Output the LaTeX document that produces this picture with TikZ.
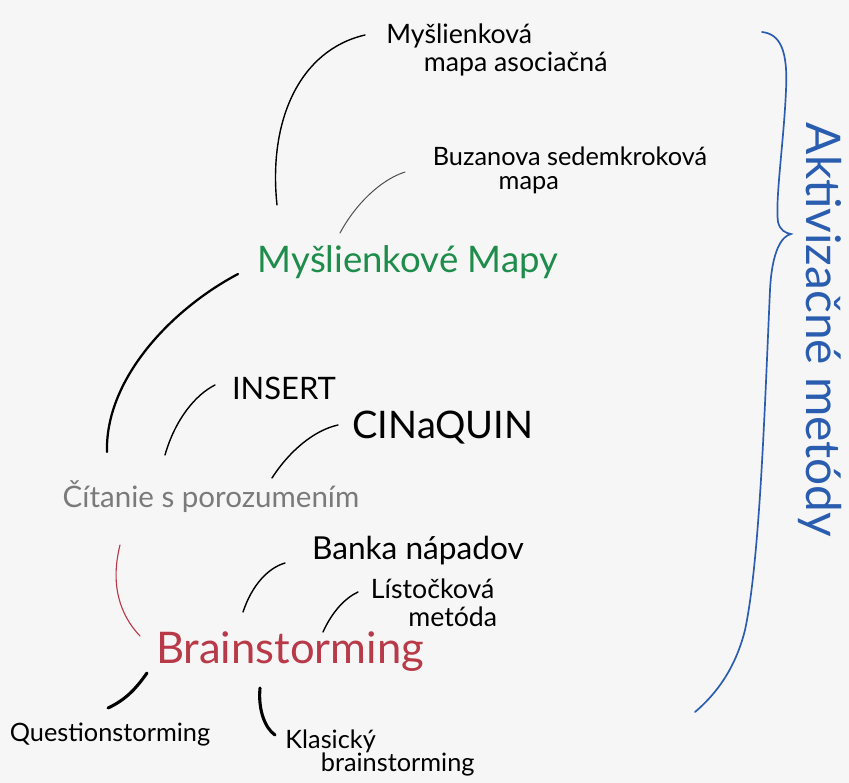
\documentclass[tikz,border=0pt]{standalone}
\usepackage{fontspec}
\setmainfont{Lato}
\definecolor{pozadie}{HTML}{F6F6F6}
\definecolor{zelena}{HTML}{1E8C4A}
\definecolor{cervena}{HTML}{B83A48}
\definecolor{seda}{HTML}{7A7A7A}
\definecolor{modra}{HTML}{2A5DB0}
\begin{document}
\begin{tikzpicture}[x=0.025cm, y=-0.025cm,
    mano/.style 2 args={font=\fontsize{#1}{#2}\selectfont, inner sep=0pt},
    rama/.style={line width=1pt, line cap=round}]

  % Pozadie
  \fill[pozadie] (0,0) rectangle (849,783);

  % Uzly
  \node[mano={26}{30}, text=zelena] (mapy) at (408,262) {Myšlienkové Mapy};
  \node[mano={19}{20}, align=left] (asoc) at (497,50) {Myšlienková\\\hspace*{1.4em}mapa asociačná};
  \node[mano={18}{17}, align=left] (buzan) at (570,170) {Buzanova sedemkroková\\\hspace*{2.6em}mapa};
  \node[mano={22}{24}] (insert) at (284,388) {INSERT};
  \node[mano={27}{30}] (cinq) at (443,428) {CINaQUIN};
  \node[mano={21}{24}, text=seda] (citanie) at (211,497) {Čítanie s porozumením};
  \node[mano={31}{34}, text=cervena] (brain) at (290,652) {Brainstorming};
  \node[mano={22.5}{24}] (banka) at (418,551) {Banka nápadov};
  \node[mano={19}{20}, align=left] (list) at (434,603) {Lístočková\\\hspace*{1.4em}metóda};
  \node[mano={18}{20}] (quest) at (110,735) {Questionstorming};
  \node[mano={18}{17}, align=left] (klas) at (380,753) {Klasický\\\hspace*{1.4em}brainstorming};
  \node[mano={34}{36}, text=modra, rotate=-90] (akt) at (820,330) {Aktivizačné metódy};

  % Spojnice
  \draw[rama] ([shift={(-131,-57)}]mapy.center) .. controls (268,120) and (300,50) .. ([shift={(-132,-15)}]asoc.center);
  \draw[rama, black!70, line width=0.7pt] ([shift={(-68,-29)}]mapy.center) .. controls (355,205) and (380,180) .. ([shift={(-165,2)}]buzan.center);
  \draw[rama, line width=1.6pt] ([shift={(-170,12)}]mapy.center) .. controls (170,310) and (105,380) .. ([shift={(-104,-45)}]citanie.center);
  \draw[rama] ([shift={(-46,-42)}]citanie.center) .. controls (175,420) and (195,395) .. ([shift={(-69,-3)}]insert.center);
  \draw[rama] ([shift={(61,-19)}]citanie.center) .. controls (290,450) and (315,430) .. ([shift={(-105,-3)}]cinq.center);
  \draw[rama, cervena, line width=0.8pt] ([shift={(-91,48)}]citanie.center) .. controls (110,585) and (120,615) .. ([shift={(-150,-16)}]brain.center);
  \draw[rama] ([shift={(-47,-40)}]brain.center) .. controls (252,585) and (268,568) .. ([shift={(-133,12)}]banka.center);
  \draw[rama] ([shift={(33,-20)}]brain.center) .. controls (332,612) and (345,598) .. ([shift={(-76,-11)}]list.center);
  \draw[rama, line width=2.2pt] ([shift={(-143,21)}]brain.center) .. controls (135,690) and (125,700) .. ([shift={(-2,-27)}]quest.center);
  \draw[rama, line width=2.2pt] ([shift={(-30,36)}]brain.center) .. controls (258,710) and (265,728) .. ([shift={(-105,-18)}]klas.center);

  % Zatvorka
  \draw[modra, line width=1.2pt, line cap=round]
    (762,32) .. controls (780,34) and (788,50) .. (786,90)
    .. controls (784,140) and (775,200) .. (778,222)
    .. controls (780,230) and (785,233) .. (791,234)
    .. controls (782,236) and (772,250) .. (770,290)
    .. controls (765,400) and (760,560) .. (745,630)
    .. controls (735,670) and (715,695) .. (695,712);

\end{tikzpicture}
\end{document}
